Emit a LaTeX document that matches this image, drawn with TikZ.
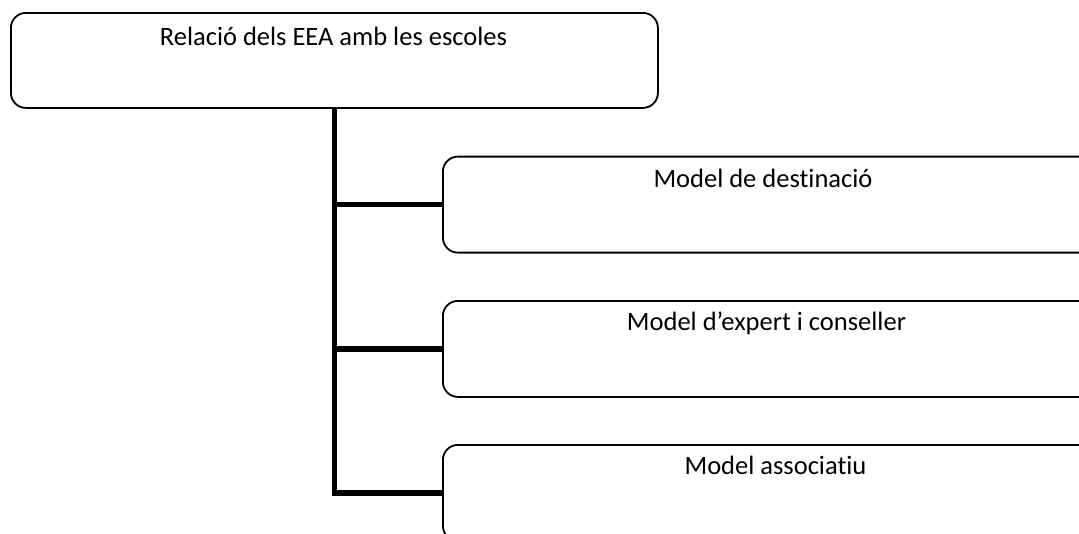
\documentclass[tikz,border=0pt]{standalone}
\usepackage{fontspec}
\setmainfont{Carlito}[Ligatures={NoCommon}]
\begin{document}
\begin{tikzpicture}[x=1pt,y=-1pt,
  box/.style={draw=black, line width=1.8pt, rounded corners=15pt, fill=white,
    inner sep=0pt, anchor=north west},
  lbl/.style={anchor=base, inner sep=0pt, font=\fontsize{26.5}{31}\selectfont},
  conn/.style={draw=black, line width=5.2pt, line join=miter}]
  \useasboundingbox (0,0) rectangle (1079,533);
  \clip (0,0) rectangle (1079,533);

  % root box
  \node[box, minimum width=647pt, minimum height=95pt] (root) at (10,12) {};
  \node[lbl] (rootlbl) at (333.5,45) {Relació dels EEA amb les escoles};

  % child boxes, running past the right edge
  \node[box, minimum width=660pt, minimum height=96pt] (c1) at (442,155.7) {};
  \node[box, minimum width=660pt, minimum height=96pt] (c2) at (442,300) {};
  \node[box, minimum width=660pt, minimum height=96pt] (c3) at (442,444) {};

  \node[lbl] (c1lbl) at (763,187) {Model de destinació};
  \node[lbl] (c2lbl) at (766.5,330) {Model d’expert i conseller};
  \node[lbl] (c3lbl) at (775.5,474) {Model associatiu};

  % tree connectors
  \draw[conn] (root.south) |- (c3.west);
  \draw[conn] (root.south |- c1.west) -- (c1.west);
  \draw[conn] (root.south |- c2.west) -- (c2.west);
\end{tikzpicture}
\end{document}
